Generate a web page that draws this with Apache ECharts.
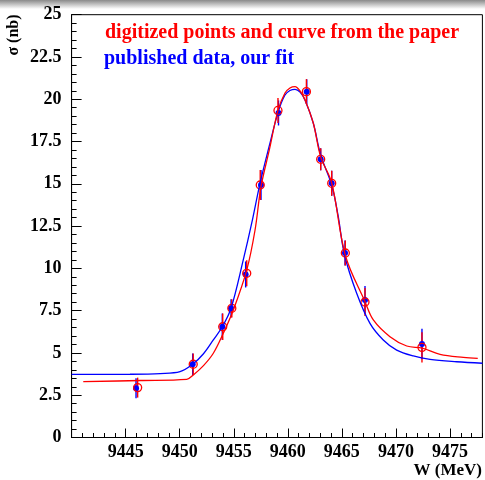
<!DOCTYPE html>
<html>
<head>
<meta charset="utf-8">
<script src="https://cdn.jsdelivr.net/npm/echarts@6/dist/echarts.min.js"></script>
<style>
html,body{margin:0;padding:0;background:#fff;}
#c{width:485px;height:480px;}
</style>
</head>
<body>
<div id="c"></div>
<script>
// ---- data ----
const blueX = [9445.96, 9451.20, 9453.94, 9454.75, 9456.10, 9457.52, 9459.14, 9461.75, 9463.04, 9464.06, 9465.29, 9467.14, 9472.41];
const blueY = [2.91, 4.33, 6.55, 7.64, 9.64, 14.93, 19.19, 20.45, 16.45, 15.03, 10.91, 8.13, 5.53];
const redX  = [9446.11, 9451.25, 9453.98, 9454.82, 9456.20, 9457.45, 9459.09, 9461.72, 9463.04, 9464.06, 9465.32, 9467.14, 9472.41];
const redY  = [2.95, 4.33, 6.55, 7.64, 9.71, 14.93, 19.34, 20.45, 16.45, 15.03, 10.91, 8.01, 5.33];
const errY  = [0.59, 0.64, 0.78, 0.54, 0.77, 0.89, 0.74, 0.74, 0.65, 0.74, 0.74, 0.83, 0.90];

const blueCurveX = [9440.0, 9445.4, 9448.2, 9450.03, 9451.2, 9452.2, 9453.11, 9453.94, 9454.75, 9455.88, 9456.66, 9457.43, 9458.26, 9459.12, 9459.74, 9460.2, 9460.67, 9461.13, 9461.59, 9462.36, 9463.04, 9464.06, 9464.64, 9465.25, 9466.37, 9467.6, 9468.83, 9470.07, 9471.61, 9473.15, 9475.62, 9478.0];
const blueCurveY = [3.73, 3.74, 3.78, 3.89, 4.33, 4.95, 5.77, 6.55, 7.64, 10.5, 12.67, 15.03, 17.18, 19.27, 20.25, 20.52, 20.59, 20.43, 19.96, 18.58, 16.71, 14.93, 13.16, 10.79, 8.53, 6.75, 5.77, 5.17, 4.82, 4.62, 4.48, 4.39];
const redCurveX = [9441.08, 9446.33, 9450.65, 9451.26, 9452.2, 9453.11, 9454.03, 9454.96, 9456.2, 9456.97, 9457.52, 9458.31, 9459.09, 9459.74, 9460.2, 9460.67, 9461.13, 9461.59, 9462.36, 9463.04, 9464.06, 9465.34, 9467.14, 9467.91, 9469.45, 9471.0, 9472.44, 9474.08, 9476.24, 9477.57];
const redCurveY = [3.30, 3.37, 3.44, 3.70, 4.25, 4.98, 6.16, 7.54, 9.9, 12.27, 14.83, 17.06, 19.34, 20.37, 20.67, 20.75, 20.49, 19.96, 18.58, 16.59, 15.05, 10.73, 8.03, 6.95, 5.96, 5.41, 5.28, 4.92, 4.74, 4.68];

const yTicks = [0, 2.5, 5, 7.5, 10, 12.5, 15, 17.5, 20, 22.5, 25];
const xTickLabels = [9445, 9450, 9455, 9460, 9465, 9470, 9475];

const legendRed = 'digitized points and curve from the paper';
const legendBlue = 'published data, our fit';
const xName = 'W (MeV)';
const yName = 'σ (nb)';

// ---- build ----
const zip = (a, b) => a.map((v, i) => [v, b[i]]);
const errData = (xs, ys, es) => xs.map((x, i) => [x, ys[i] - es[i], ys[i] + es[i]]);
const FONT = '"Liberation Serif", "Times New Roman", serif';

function errRender(color) {
  return function (params, api) {
    const x = api.value(0);
    const p1 = api.coord([x, api.value(1)]);
    const p2 = api.coord([x, api.value(2)]);
    return { type: 'line', shape: { x1: p1[0], y1: p1[1], x2: p2[0], y2: p2[1] },
      style: { stroke: color, lineWidth: 1.4 } };
  };
}

const chart = echarts.init(document.getElementById('c'), null, { renderer: 'canvas' });
chart.setOption({
  animation: false,
  backgroundColor: '#fff',
  grid: { left: 71.6, top: 14.7, width: 410.8, height: 422.8, show: true, borderColor: '#000', borderWidth: 1, backgroundColor: 'transparent' },
  xAxis: [{
    type: 'value', min: 9440, max: 9478, interval: 5, position: 'bottom',
    axisLine: { show: true, lineStyle: { color: '#000', width: 1 } },
    axisTick: { show: true, inside: true, length: 9, lineStyle: { color: '#000' } },
    minorTick: { show: false },
    splitLine: { show: false },
    axisLabel: { show: true, showMinLabel: false, showMaxLabel: false, margin: 6, color: '#000', fontFamily: FONT, fontWeight: 'bold', fontSize: 18,
      formatter: v => (xTickLabels.indexOf(v) >= 0 ? String(v) : '') }
  }, {
    type: 'value', min: 9440, max: 9478, interval: 1, position: 'bottom', offset: 0,
    axisLine: { show: false },
    axisTick: { show: true, inside: true, length: 4.5, lineStyle: { color: '#000' } },
    axisLabel: { show: false }, splitLine: { show: false }
  }],
  yAxis: {
    type: 'value', min: 0, max: 25, interval: 2.5,
    axisLine: { show: true, lineStyle: { color: '#000', width: 1 } },
    axisTick: { show: true, inside: true, length: 10, lineStyle: { color: '#000' } },
    minorTick: { show: true, splitNumber: 5, length: 5, lineStyle: { color: '#000' } },
    splitLine: { show: false },
    axisLabel: { margin: 10, color: '#000', fontFamily: FONT, fontWeight: 'bold', fontSize: 18,
      formatter: v => (yTicks.indexOf(v) >= 0 ? String(v) : '') }
  },
  graphic: [
    { type: 'rect', left: 0, top: 0, shape: { width: 485, height: 9 }, silent: true,
      style: { fill: new echarts.graphic.LinearGradient(0, 0, 0, 1, [{ offset: 0, color: '#8a8a8a' }, { offset: 1, color: '#ffffff' }]) } },
    { type: 'text', x: 105, y: 33, silent: true,
      style: { text: legendRed, fill: '#ff0000', font: 'bold 20px ' + FONT, textAlign: 'left', textVerticalAlign: 'middle' } },
    { type: 'text', x: 104, y: 58.5, silent: true,
      style: { text: legendBlue, fill: '#0000ff', font: 'bold 20px ' + FONT, textAlign: 'left', textVerticalAlign: 'middle' } },
    { type: 'text', x: 482, y: 471, silent: true,
      style: { text: xName, fill: '#000', font: 'bold 17px ' + FONT, textAlign: 'right', textVerticalAlign: 'middle' } },
    { type: 'text', x: 14, y: 35, rotation: Math.PI / 2, silent: true,
      style: { text: yName, fill: '#000', font: 'bold 16px ' + FONT, textAlign: 'center', textVerticalAlign: 'middle' } }
  ],
  series: [
    { type: 'line', data: zip(blueCurveX, blueCurveY), showSymbol: false, smooth: 0.35, silent: true,
      lineStyle: { color: '#0000ff', width: 1.3 } },
    { type: 'line', data: zip(redCurveX, redCurveY), showSymbol: false, smooth: 0.35, silent: true,
      lineStyle: { color: '#ff0000', width: 1.3 } },
    { type: 'custom', data: errData(blueX, blueY, errY), renderItem: errRender('#0000ff'), silent: true },
    { type: 'custom', data: errData(redX, redY, errY), renderItem: errRender('#ff0000'), silent: true },
    { type: 'scatter', data: zip(blueX, blueY), symbol: 'circle', symbolSize: 6, silent: true,
      itemStyle: { color: '#0000ff', opacity: 1 } },
    { type: 'scatter', data: zip(redX, redY), symbol: 'circle', symbolSize: 8, silent: true,
      itemStyle: { color: 'rgba(0,0,0,0)', borderColor: '#ff0000', borderWidth: 1.3, opacity: 1 } }
  ]
});
</script>
</body>
</html>
